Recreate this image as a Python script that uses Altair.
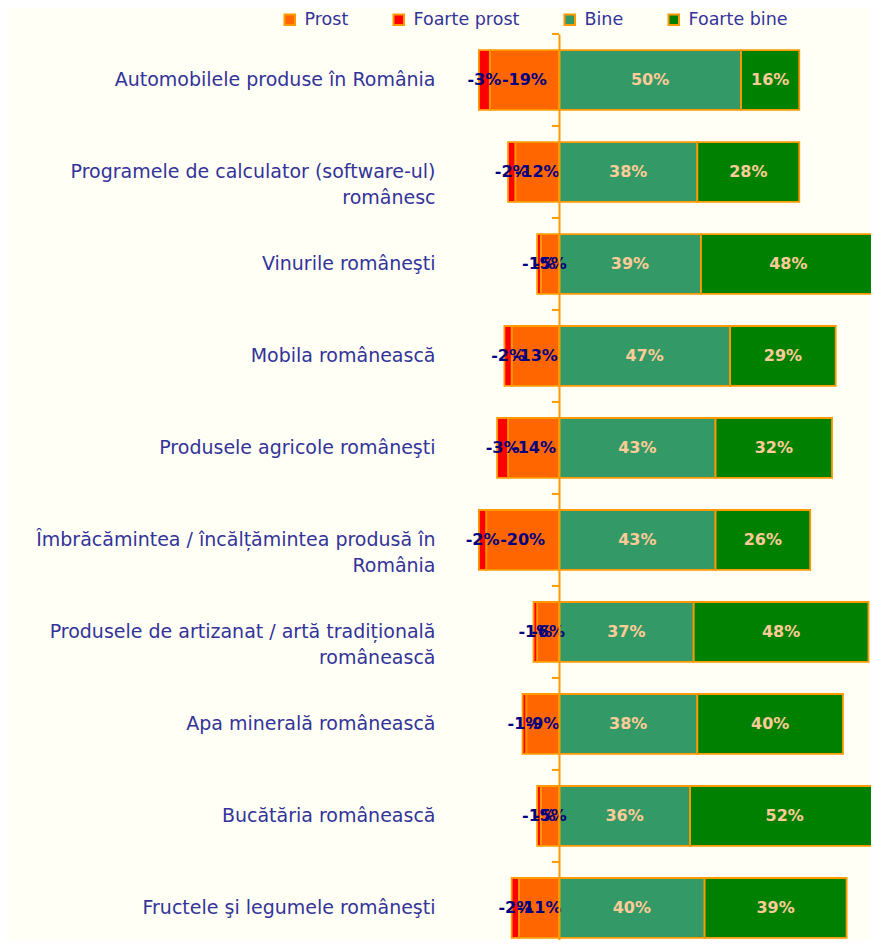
import altair as alt
import pandas as pd

categories = [
    "Automobilele produse în România",
    "Programele de calculator (software-ul)|românesc",
    "Vinurile româneşti",
    "Mobila românească",
    "Produsele agricole româneşti",
    "Îmbrăcămintea / încălțămintea produsă în|România",
    "Produsele de artizanat / artă tradițională|românească",
    "Apa minerală românească",
    "Bucătăria românească",
    "Fructele şi legumele româneşti",
]
foarte_prost = [-3, -2, -1, -2, -3, -2, -1, -1, -1, -2]
prost = [-19, -12, -5, -13, -14, -20, -6, -9, -5, -11]
bine = [50, 38, 39, 47, 43, 43, 37, 38, 36, 40]
foarte_bine = [16, 28, 48, 29, 32, 26, 48, 40, 52, 39]

series_names = ["Prost", "Foarte prost", "Bine", "Foarte bine"]
series_colors = ["#FF6600", "#FF0000", "#339966", "#008000"]

rows = []
for i, c in enumerate(categories):
    p, fp, b, fb = prost[i], foarte_prost[i], bine[i], foarte_bine[i]
    segs = [
        ("Prost", 0, p, p),
        ("Foarte prost", p, p + fp, fp),
        ("Bine", 0, b, b),
        ("Foarte bine", b, b + fb, fb),
    ]
    for name, s, e, v in segs:
        rows.append({"cat": c, "series": name, "start": s, "end": e,
                     "mid": (s + e) / 2, "label": f"{v}%",
                     "neg": v < 0})
df = pd.DataFrame(rows)
df_cats = pd.DataFrame({"cat": categories, "t0": -1.95, "t1": 0.0})

FONT = "DejaVu Sans"
ORANGE = "#FF9900"

y_scale = alt.Scale(paddingInner=0.35, paddingOuter=0.099, align=0.88)
x_scale = alt.Scale(domain=[-35.16, 85.7], nice=False, zero=False)

bars = alt.Chart(df).mark_bar(stroke=ORANGE, strokeWidth=1.8, clip=True).encode(
    y=alt.Y("cat:N", sort=categories, scale=y_scale,
            axis=alt.Axis(title=None, domain=False, ticks=False, orient="left",
                          labelExpr="split(datum.label, '|')",
                          labelFont=FONT, labelFontSize=19,
                          labelColor="#333399", labelPadding=-4,
                          labelLineHeight=26, labelLimit=500)),
    x=alt.X("start:Q", scale=x_scale, axis=None),
    x2="end:Q",
    color=alt.Color("series:N",
                    scale=alt.Scale(domain=series_names, range=series_colors),
                    legend=alt.Legend(
                        title=None, orient="none", direction="horizontal",
                        legendX=-150, legendY=-23, padding=0,
                        symbolType="square", symbolSize=110,
                        symbolStrokeColor=ORANGE, symbolStrokeWidth=2,
                        labelFont=FONT, labelFontSize=17.5,
                        labelColor="#333399", labelOffset=6,
                        columnPadding=40,
                        labelExpr="datum.label == 'Bine' ? '\u00a0Bine' : datum.label")),
)

texts = alt.Chart(df).mark_text(font=FONT, fontSize=16, fontWeight="bold").encode(
    y=alt.Y("cat:N", sort=categories, scale=y_scale,
            axis=alt.Axis(title=None, labels=False, domain=True, orient="left",
                          domainColor=ORANGE, domainWidth=2,
                          ticks=False, offset=-128, zindex=1)),
    x=alt.X("mid:Q", scale=x_scale, axis=None),
    text="label:N",
    color=alt.condition("datum.neg", alt.value("#000080"), alt.value("#FFCC99")),
)

ticks = alt.Chart(df_cats).mark_rule(color=ORANGE, strokeWidth=2, yOffset=-46).encode(
    y=alt.Y("cat:N", sort=categories, scale=y_scale, axis=None),
    x=alt.X("t0:Q", scale=x_scale, axis=None),
    x2="t1:Q",
)

chart = alt.layer(bars, texts, ticks).resolve_axis(y="independent").properties(
    width=440, height=906,
    autosize=alt.AutoSizeParams(type="none"),
    padding={"left": 423, "top": 26, "right": 0, "bottom": 0},
    background="#FFFFF5",
).configure_view(stroke=None)

chart.save("out.html", embed_options={"renderer": "svg", "actions": False})
